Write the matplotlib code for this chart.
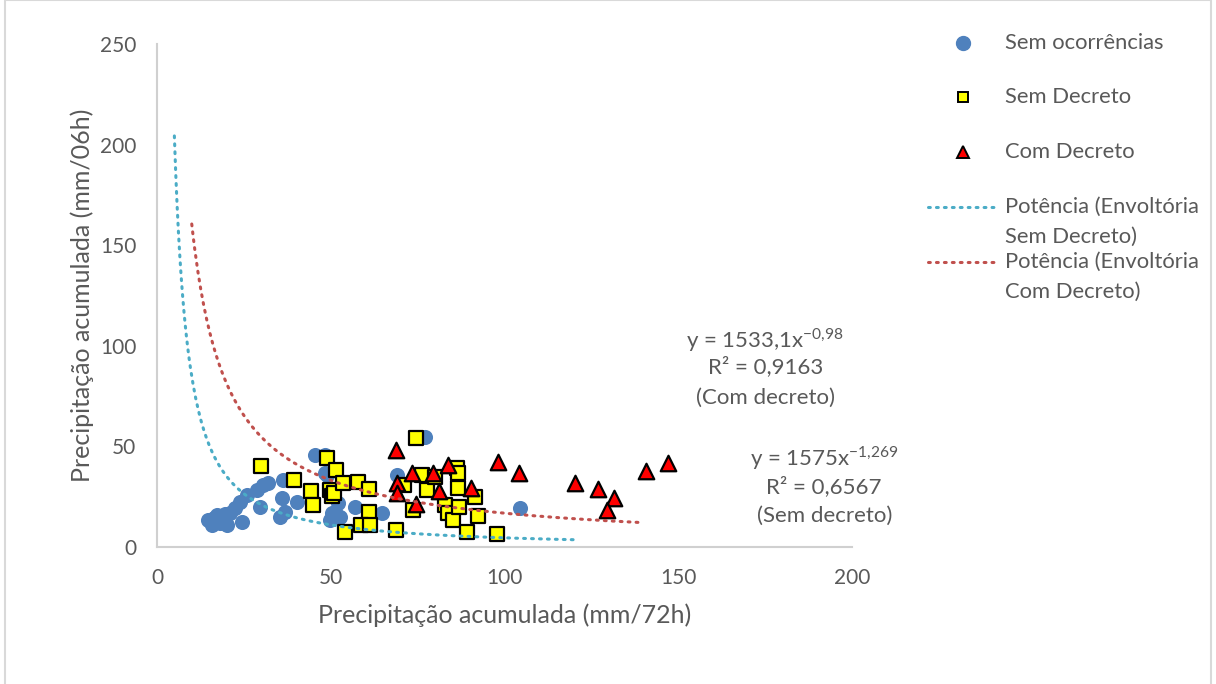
import numpy as np
import matplotlib
matplotlib.use("Agg")
import matplotlib.pyplot as plt
from matplotlib.lines import Line2D
from matplotlib.patches import Rectangle

plt.rcParams['font.family'] = ['Lato', 'DejaVu Sans']
plt.rcParams['mathtext.fontset'] = 'custom'
plt.rcParams['mathtext.rm'] = 'Lato'

GRAY = "#595959"

# Sem ocorrencias (blue circles): mm/72h, mm/06h
sem_oc_x = [14.7, 15.8, 16.5, 17.3, 18.0, 18.7, 19.5, 20.1, 21.0, 22.4, 23.9, 24.5,
            25.9, 28.8, 29.6, 30.5, 31.9, 35.4, 36.0, 36.3, 36.8, 40.3, 45.5, 48.3,
            48.9, 48.3, 50.5, 51.2, 52.7, 49.8, 57.0, 64.7, 69.1, 77.1, 104.5, 52.0]
sem_oc_y = [13.4, 10.9, 14.5, 15.9, 12.0, 12.4, 16.5, 10.9, 16.9, 19.4, 22.4, 12.4,
            25.8, 28.3, 19.9, 30.8, 31.8, 14.9, 24.4, 33.3, 17.4, 22.4, 45.7, 45.7,
            35.8, 36.8, 16.9, 17.4, 14.9, 13.4, 19.9, 16.9, 35.8, 54.7, 19.4, 22.0]

# Sem Decreto (yellow squares)
sem_dec_x = [29.9, 39.3, 44.3, 44.9, 48.9, 51.5, 49.8, 50.4, 51.0, 53.5, 57.8, 61.0,
             61.0, 58.7, 61.3, 54.1, 68.8, 73.7, 74.5, 71.1, 76.3, 77.7, 80.0, 82.9,
             83.7, 85.2, 86.6, 86.3, 86.6, 86.9, 91.5, 92.4, 89.2, 97.8]
sem_dec_y = [40.3, 33.3, 27.8, 20.9, 44.2, 38.3, 28.3, 25.3, 27.0, 31.8, 32.3, 28.8,
             17.4, 10.9, 10.9, 7.5, 8.5, 18.4, 54.2, 30.8, 35.8, 28.3, 34.8, 20.9,
             16.9, 13.4, 29.3, 39.3, 36.8, 19.9, 24.9, 15.4, 7.5, 6.5]

# Com Decreto (red triangles)
com_dec_x = [68.8, 69.1, 69.1, 73.4, 74.5, 79.4, 83.7, 81.2, 90.4, 98.1, 104.2,
             120.3, 126.9, 131.5, 129.5, 140.7, 147.0]
com_dec_y = [48.2, 31.8, 26.8, 36.8, 21.4, 36.8, 40.8, 27.8, 29.3, 42.2, 36.8,
             31.8, 28.8, 24.4, 18.4, 37.8, 41.8]

# power trendlines y = a * x^b, drawn over the x range Excel used
fit_sem = (1575.0, -1.269, 5, 120)
fit_com = (1533.1, -0.98, 10, 140)

fig = plt.figure(figsize=(12.16, 6.84), dpi=100)
ax = fig.add_axes([157 / 1216, 137 / 684, 695 / 1216, 503 / 684])

ax.scatter(sem_oc_x, sem_oc_y, s=118, marker='o', color="#4F81BD", lw=0, zorder=2)
ax.scatter(sem_dec_x, sem_dec_y, s=96, marker='s', facecolor="#FFFF00",
           edgecolor="black", lw=1.6, zorder=3)
ax.scatter(com_dec_x, com_dec_y, s=125, marker='^', facecolor="#FF0000",
           edgecolor="black", lw=1.6, zorder=4)

for (a, b, x0, x1), col in [(fit_sem, "#4BACC6"), (fit_com, "#C0504D")]:
    xs = np.linspace(x0, x1, 300)
    ax.plot(xs, a * xs ** b, color=col, lw=2.2, ls=(0, (0.6, 2.0)),
            dash_capstyle='round', zorder=5)

ax.set_xlim(0, 200)
ax.set_ylim(0, 250)
ax.set_xticks([0, 50, 100, 150, 200])
ax.set_yticks([0, 50, 100, 150, 200, 250])
ax.tick_params(length=0, labelsize=15, labelcolor=GRAY, pad=15)
for side in ["top", "right"]:
    ax.spines[side].set_visible(False)
for side in ["left", "bottom"]:
    ax.spines[side].set_color("#D0D0D0")
    ax.spines[side].set_linewidth(1.5)

ax.set_xlabel("Precipitação acumulada (mm/72h)", fontsize=18, color=GRAY)
ax.set_ylabel("Precipitação acumulada (mm/06h)", fontsize=18, color=GRAY)
ax.xaxis.set_label_coords(0.5, -0.112)
ax.yaxis.set_label_coords(-0.09, 0.5)

# equations
eq_fs = 16
ax.text(175, 102.9, r"y = 1533,1x$^{\mathregular{-0{,}98}}$", ha='center', va='center',
        fontsize=eq_fs, color=GRAY)
ax.text(175, 89.5, "R² = 0,9163", ha='center', va='center', fontsize=eq_fs, color=GRAY)
ax.text(175, 74.1, "(Com decreto)", ha='center', va='center', fontsize=eq_fs, color=GRAY)
ax.text(192, 44.2, r"y = 1575x$^{\mathregular{-1{,}269}}$", ha='center', va='center',
        fontsize=eq_fs, color=GRAY)
ax.text(192, 29.8, "R² = 0,6567", ha='center', va='center', fontsize=eq_fs, color=GRAY)
ax.text(192, 15.4, "(Sem decreto)", ha='center', va='center', fontsize=eq_fs, color=GRAY)

# legend, laid out by hand like Excel does
W, H = 1216.0, 684.0
def fx(px): return px / W
def fy(py): return 1 - py / H

fig.add_artist(Line2D([fx(963)], [fy(43)], marker='o', ms=10, color="#4F81BD", lw=0))
fig.add_artist(Line2D([fx(963)], [fy(97)], marker='s', ms=7.5, mfc="#FFFF00",
                      mec="black", mew=1.4, lw=0))
fig.add_artist(Line2D([fx(963)], [fy(152)], marker='^', ms=9, mfc="#FF0000",
                      mec="black", mew=1.4, lw=0))
fig.add_artist(Line2D([fx(928), fx(998)], [fy(207), fy(207)], color="#4BACC6", lw=2.2,
                      ls=(0, (0.6, 2.0)), dash_capstyle='round'))
fig.add_artist(Line2D([fx(928), fx(998)], [fy(262), fy(262)], color="#C0504D", lw=2.2,
                      ls=(0, (0.6, 2.0)), dash_capstyle='round'))
leg_texts = [("Sem ocorrências", 43), ("Sem Decreto", 97), ("Com Decreto", 152),
             ("Potência (Envoltória", 207), ("Sem Decreto)", 237),
             ("Potência (Envoltória", 262), ("Com Decreto)", 292)]
for t, py in leg_texts:
    fig.text(fx(1005), fy(py), t, ha='left', va='center', fontsize=15.8, color=GRAY)

# chart area border
fig.add_artist(Rectangle((fx(5), fy(700)), fx(1206), 700 / H, fill=False,
                         ec="#D9D9D9", lw=1.5, transform=fig.transFigure))

fig.savefig("out.png", dpi=100)
